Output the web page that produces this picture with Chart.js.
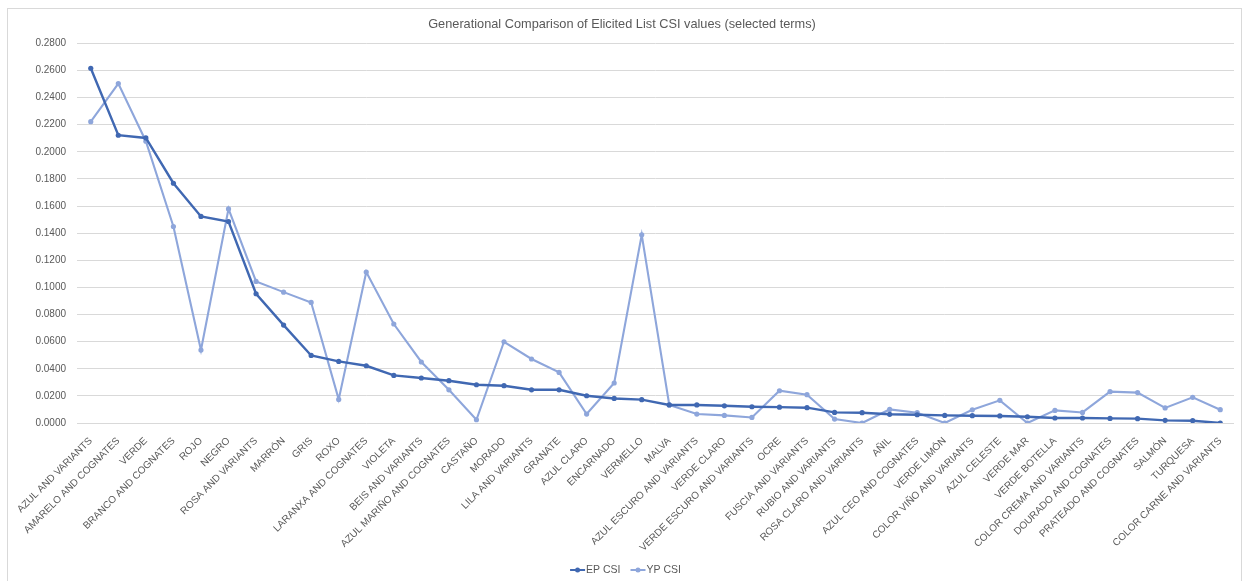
<!DOCTYPE html>
<html>
<head>
<meta charset="utf-8">
<title>Generational Comparison of Elicited List CSI values</title>
<script src="https://cdn.jsdelivr.net/npm/chart.js@4"></script>
<style>
  html, body { margin: 0; padding: 0; background: #ffffff; }
  #wrap { position: relative; width: 1243px; height: 581px; overflow: hidden; }
  #frame {
    position: absolute; left: 7px; top: 8px; width: 1233px; height: 600px;
    border: 1px solid #d9d9d9; pointer-events: none;
  }
  canvas { position: absolute; left: 0; top: 0; }
</style>
</head>
<body>
<div id="wrap">
  <canvas id="chart" width="1243" height="581"></canvas>
  <div id="frame"></div>
</div>
<script>
// Colour terms, ordered by the EP CSI value
const categories = [
  'AZUL AND VARIANTS', 'AMARELO AND COGNATES', 'VERDE', 'BRANCO AND COGNATES', 'ROJO',
  'NEGRO', 'ROSA AND VARIANTS', 'MARRÓN', 'GRIS', 'ROXO',
  'LARANXA AND COGNATES', 'VIOLETA', 'BEIS AND VARIANTS', 'AZUL MARIÑO AND COGNATES', 'CASTAÑO',
  'MORADO', 'LILA AND VARIANTS', 'GRANATE', 'AZUL CLARO', 'ENCARNADO',
  'VERMELLO', 'MALVA', 'AZUL ESCURO AND VARIANTS', 'VERDE CLARO', 'VERDE ESCURO AND VARIANTS',
  'OCRE', 'FUSCIA AND VARIANTS', 'RUBIO AND VARIANTS', 'ROSA CLARO AND VARIANTS', 'AÑIL',
  'AZUL CEO AND COGNATES', 'VERDE LIMÓN', 'COLOR VIÑO AND VARIANTS', 'AZUL CELESTE', 'VERDE MAR',
  'VERDE BOTELLA', 'COLOR CREMA AND VARIANTS', 'DOURADO AND COGNATES', 'PRATEADO AND COGNATES', 'SALMÓN',
  'TURQUESA', 'COLOR CARNE AND VARIANTS'
];

// Older generation
const epCsi = [
  0.2616, 0.2122, 0.2102, 0.1768, 0.1523,
  0.1486, 0.0953, 0.0722, 0.0498, 0.0454,
  0.0422, 0.0351, 0.0332, 0.0312, 0.0282,
  0.0275, 0.0245, 0.0245, 0.0201, 0.0181,
  0.0172, 0.0133, 0.0133, 0.0127, 0.0120,
  0.0117, 0.0113, 0.0078, 0.0076, 0.0064,
  0.0061, 0.0056, 0.0054, 0.0052, 0.0046,
  0.0037, 0.0037, 0.0034, 0.0032, 0.0019,
  0.0017, 0.0000
];

// Younger generation
const ypCsi = [
  0.2222, 0.2503, 0.2078, 0.1449, 0.0538,
  0.1579, 0.1044, 0.0965, 0.0889, 0.0174,
  0.1113, 0.0730, 0.0450, 0.0245, 0.0024,
  0.0599, 0.0472, 0.0373, 0.0066, 0.0295,
  0.1388, 0.0133, 0.0066, 0.0056, 0.0041,
  0.0238, 0.0209, 0.0029, 0.0000, 0.0100,
  0.0076, 0.0000, 0.0097, 0.0167, 0.0000,
  0.0093, 0.0078, 0.0231, 0.0224, 0.0111,
  0.0189, 0.0098
];

const seriesNames = ['EP CSI', 'YP CSI'];
const seriesColors = ['#4068b2', '#8ea6db'];

const textColor = '#595959';
const fontFamily = '"Liberation Sans", Arial, sans-serif';

// Legend drawn as a short line with a marker in the middle, centred under the axis
const lineLegend = {
  id: 'lineLegend',
  afterDraw(chart) {
    const ctx = chart.ctx;
    const y = 570;
    const segLen = 15;
    const textGap = 1;
    const itemGap = 10;
    ctx.save();
    ctx.font = '10.5px ' + fontFamily;
    const items = chart.data.datasets.map(ds => ({
      label: ds.label,
      color: ds.borderColor,
      w: segLen + textGap + ctx.measureText(ds.label).width
    }));
    const total = items.reduce((s, it) => s + it.w, 0) + itemGap * (items.length - 1);
    let x = 625.5 - total / 2;
    items.forEach(it => {
      ctx.strokeStyle = it.color;
      ctx.lineWidth = 2;
      ctx.beginPath();
      ctx.moveTo(x, y);
      ctx.lineTo(x + segLen, y);
      ctx.stroke();
      ctx.fillStyle = it.color;
      ctx.beginPath();
      ctx.arc(x + segLen / 2, y, 2.5, 0, Math.PI * 2);
      ctx.fill();
      ctx.fillStyle = textColor;
      ctx.textAlign = 'left';
      ctx.textBaseline = 'middle';
      ctx.fillText(it.label, x + segLen + textGap, y + 0.5);
      x += it.w + itemGap;
    });
    ctx.restore();
  }
};

// White canvas background
const whiteBg = {
  id: 'whiteBg',
  beforeDraw(chart) {
    const ctx = chart.ctx;
    ctx.save();
    ctx.fillStyle = '#ffffff';
    ctx.fillRect(0, 0, chart.width, chart.height);
    ctx.restore();
  }
};

new Chart(document.getElementById('chart'), {
  type: 'line',
  data: {
    labels: categories,
    datasets: [
      {
        label: seriesNames[0],
        data: epCsi,
        borderColor: seriesColors[0],
        backgroundColor: seriesColors[0],
        borderWidth: 2.4,
        pointRadius: 2.6,
        pointBorderWidth: 0,
        pointHoverRadius: 2.6,
        tension: 0
      },
      {
        label: seriesNames[1],
        data: ypCsi,
        borderColor: seriesColors[1],
        backgroundColor: seriesColors[1],
        borderWidth: 2.1,
        pointRadius: 2.6,
        pointBorderWidth: 0,
        pointHoverRadius: 2.6,
        tension: 0
      }
    ]
  },
  options: {
    responsive: false,
    animation: false,
    devicePixelRatio: 1,
    layout: { padding: { left: 10, right: 9, top: 0, bottom: 28 } },
    plugins: {
      legend: { display: false },
      tooltip: { enabled: false },
      title: {
        display: true,
        text: 'Generational Comparison of Elicited List CSI values (selected terms)',
        color: textColor,
        font: { family: fontFamily, size: 12.75, weight: 'normal' },
        padding: { top: 17, bottom: 11 }
      }
    },
    scales: {
      x: {
        offset: true,
        grid: { display: false, drawTicks: false },
        border: { display: false },
        ticks: {
          color: textColor,
          font: { family: fontFamily, size: 10 },
          autoSkip: false,
          maxRotation: 45,
          minRotation: 45,
          padding: 12
        },
        afterFit(scale) { scale.height = 130; }
      },
      y: {
        min: 0,
        max: 0.28,
        grid: { color: '#d9d9d9', lineWidth: 1, drawTicks: false },
        border: { display: false },
        ticks: {
          stepSize: 0.02,
          color: textColor,
          font: { family: fontFamily, size: 10 },
          padding: 11,
          callback: v => v.toFixed(4)
        },
        afterFit(scale) { scale.width = 67; }
      }
    }
  },
  plugins: [whiteBg, lineLegend]
});
</script>
</body>
</html>
